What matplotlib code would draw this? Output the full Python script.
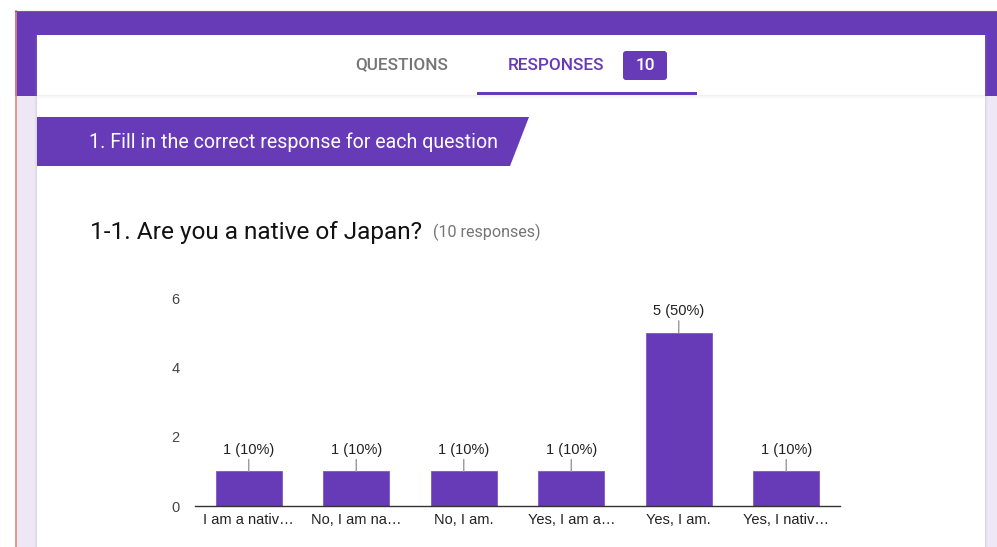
import matplotlib
matplotlib.use("Agg")
import matplotlib.pyplot as plt
from matplotlib.patches import Rectangle, Polygon, FancyBboxPatch

# ---- data ----
categories = ["I am a nativ\u2026", "No, I am na\u2026", "No, I am.", "Yes, I am a\u2026", "Yes, I am.", "Yes, I nativ\u2026"]
counts = [1, 1, 1, 1, 5, 1]
percents = [10, 10, 10, 10, 50, 10]
y_ticks = [0, 2, 4, 6]
total_responses = 10
section_title = "1. Fill in the correct response for each question"
question_title = "1-1. Are you a native of Japan?"

PURPLE = "#673ab7"
LAVENDER = "#ede7f6"
W, H = 997, 547

fig = plt.figure(figsize=(W / 100, H / 100), dpi=100)
fig.patch.set_facecolor("white")

# background page layer in pixel coordinates
bg = fig.add_axes([0, 0, 1, 1])
bg.set_xlim(0, W)
bg.set_ylim(H, 0)
bg.axis("off")

# purple header
bg.add_patch(Rectangle((15, 11), W - 15, 85, color=PURPLE, lw=0))
# lavender margins below header
bg.add_patch(Rectangle((15, 96), W - 15, H - 96, color=LAVENDER, lw=0))
# left salmon edge
bg.plot([15.5, 15.5], [11, H], color="#e0897a", lw=1.2)
bg.plot([15, W], [11.3, 11.3], color="#b04a5a", lw=0.8)
# card shadow
for i, a in enumerate([0.12, 0.07, 0.035]):
    bg.add_patch(Rectangle((37 - 1 - i, 35), 985 - 37 + 2 + 2 * i, H, color="#9e9aa8", alpha=a, lw=0))
# card
bg.add_patch(Rectangle((37, 35), 985 - 37, H - 35, color="white", lw=0))
# tab bar shadow
for i, a in enumerate([0.10, 0.06, 0.035, 0.015]):
    bg.add_patch(Rectangle((37, 95 + i), 985 - 37, 1, color="#777777", alpha=a, lw=0))

# tabs
bg.text(401.5, 65, "QUESTIONS", family="Roboto", weight="medium", fontsize=12.4,
        color="#757575", ha="center", va="center")
bg.text(555.5, 65, "RESPONSES", family="Roboto", weight="medium", fontsize=12.4,
        color=PURPLE, ha="center", va="center")
bg.add_patch(FancyBboxPatch((623, 51), 44, 29, boxstyle="round,pad=0,rounding_size=3",
                            color=PURPLE, lw=0))
bg.text(645, 65.5, str(total_responses), family="Roboto", weight="medium", fontsize=12.5,
        color="white", ha="center", va="center")
bg.add_patch(Rectangle((477, 92), 220, 3, color=PURPLE, lw=0))

# section banner
bg.add_patch(Polygon([(37, 117), (529, 117), (510, 166), (37, 166)], closed=True,
                     color=PURPLE, lw=0))
bg.text(89, 142, section_title, family="Roboto", fontsize=14.1, color="white",
        ha="left", va="center")

# question title
bg.text(90, 232, question_title, family="Roboto", fontsize=17.6, color="#111111",
        ha="left", va="center")
bg.text(433, 232, f"({total_responses} responses)", family="Roboto", fontsize=11.6,
        color="#757575", ha="left", va="center")

# ---- chart ----
ax_left, ax_right, ax_bottom_px, ax_top_px = 195, 840, 506, 298
ax = fig.add_axes([ax_left / W, 1 - ax_bottom_px / H,
                   (ax_right - ax_left) / W, (ax_bottom_px - ax_top_px) / H])
ax.set_facecolor("none")
x = list(range(len(categories)))
ax.bar(x, counts, width=0.61, color=PURPLE, edgecolor="#7e57c2", linewidth=0.6, zorder=2)
ax.set_xlim(-0.5, len(categories) - 0.5)
ax.set_ylim(0, max(y_ticks))
ax.set_yticks(y_ticks)
ax.set_xticks(x)
ax.set_xticklabels(categories, family="Liberation Sans", fontsize=10.5, color="#222222")
ax.set_yticklabels([str(v) for v in y_ticks], family="Liberation Sans", fontsize=10.5,
                   color="#444444")
ax.tick_params(axis="both", length=0)
ax.tick_params(axis="x", pad=5)
ax.tick_params(axis="y", pad=11)
for s in ["left", "right", "top"]:
    ax.spines[s].set_visible(False)
ax.spines["bottom"].set_color("#333333")
ax.spines["bottom"].set_linewidth(1.0)
ax.spines["bottom"].set_zorder(3)

for xi, c, p in zip(x, counts, percents):
    ax.annotate(f"{c} ({p}%)", xy=(xi, c), xytext=(0, 10.5), textcoords="offset points",
                ha="center", va="bottom", family="Liberation Sans", fontsize=10.5,
                color="#222222",
                arrowprops=dict(arrowstyle="-", color="#999999", lw=1.0, shrinkA=0, shrinkB=0))

fig.savefig("out.png", dpi=100, facecolor="white")
